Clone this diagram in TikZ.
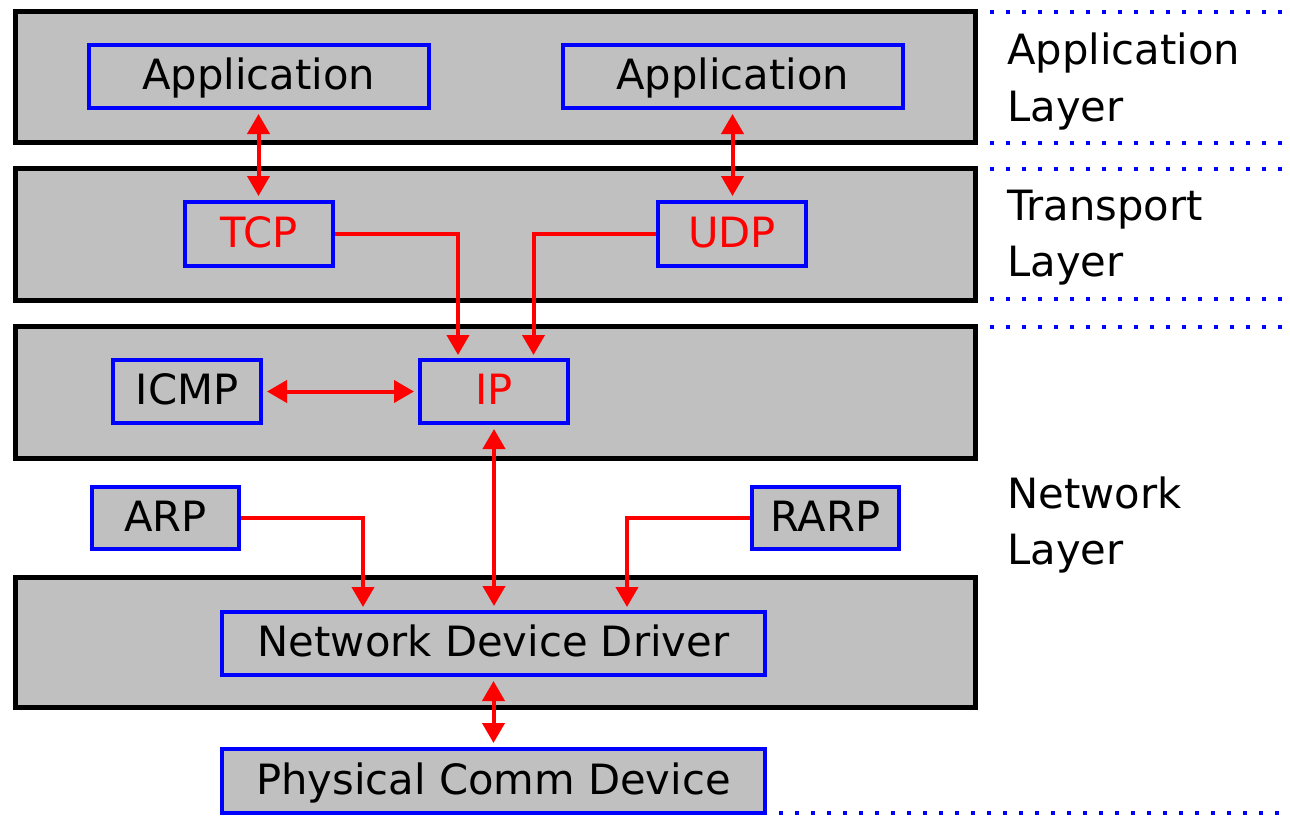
\documentclass[tikz,border=0pt]{standalone}
\usepackage{fontspec}
\setmainfont{DejaVu Sans}
\usetikzlibrary{arrows.meta}
\definecolor{laygray}{RGB}{192,192,192}
\definecolor{bblue}{RGB}{0,0,255}
\definecolor{rred}{RGB}{255,0,0}
\tikzset{
  layerbox/.style={draw=black, fill=laygray, line width=5pt},
  comp/.style={draw=bblue, fill=laygray, line width=4pt, inner sep=0pt,
    font=\fontsize{41.7}{50}\selectfont, text height=32pt, text depth=6pt,
    minimum height=63pt},
  redtext/.style={text=rred},
  lbl/.style={anchor=base west, inner sep=0pt, font=\fontsize{41.7}{50}\selectfont},
  conn/.style={draw=rred, line width=4pt, -{Triangle[width=22pt,length=20pt]}},
  bconn/.style={draw=rred, line width=4pt, {Triangle[width=22pt,length=20pt]}-{Triangle[width=22pt,length=20pt]}},
  dotline/.style={draw=bblue, line width=4pt, dash pattern=on 4pt off 12pt}
}
\begin{document}
\begin{tikzpicture}[x=1pt,y=-1pt]
\useasboundingbox (0,0) rectangle (1290,816);
% layer boxes
\draw[layerbox] (15.5,12) rectangle (975,142);
\draw[layerbox] (15.5,168) rectangle (975,300);
\draw[layerbox] (15.5,326) rectangle (975,458);
\draw[layerbox] (15.5,577) rectangle (975,707);
% components
\node[comp, minimum width=340pt] (app1) at (258.5,76.5) {Application};
\node[comp, minimum width=340pt] (app2) at (732.5,76.5) {Application};
\node[comp, redtext, minimum width=148pt, minimum height=64pt] (tcp) at (259,234) {TCP};
\node[comp, redtext, minimum width=148pt, minimum height=64pt] (udp) at (732,234) {UDP};
\node[comp, minimum width=148pt] (icmp) at (187,391.5) {ICMP};
\node[comp, redtext, minimum width=148pt] (ip) at (494,391.5) {IP};
\node[comp, minimum width=147pt, minimum height=62pt] (arp) at (165.5,518) {ARP};
\node[comp, minimum width=147pt, minimum height=62pt] (rarp) at (825.5,518) {RARP};
\node[comp, minimum width=543pt] (ndd) at (493.5,643.5) {Network Device Driver};
\node[comp, minimum width=543pt, minimum height=64pt] (phys) at (493.5,781) {Physical Comm Device};
% connectors
\draw[bconn, shorten <=4pt, shorten >=4pt] (app1.south) -- (app1.south |- tcp.north);
\draw[bconn, shorten <=4pt, shorten >=4pt] (app2.south) -- (app2.south |- udp.north);
\draw[conn, shorten >=3pt] (tcp.east) -| ([xshift=-36pt]ip.north);
\draw[conn, shorten >=3pt] (udp.west) -| ([xshift=39.5pt]ip.north);
\draw[bconn, shorten <=4pt, shorten >=4pt] (icmp.east) -- (ip.west);
\draw[bconn, shorten <=4pt, shorten >=4pt] (ip.south) -- (ip.south |- ndd.north);
\draw[conn, shorten >=3pt] (arp.east) -| ([xshift=-130.5pt]ndd.north);
\draw[conn, shorten >=3pt] (rarp.west) -| ([xshift=133.5pt]ndd.north);
\draw[bconn, shorten <=4pt, shorten >=4pt] (ndd.south) -- (ndd.south |- phys.north);
% dotted separators
\coordinate (d1a) at (990,12);  \coordinate (d1b) at (1290,12);
\coordinate (d2a) at (990,143); \coordinate (d2b) at (1290,143);
\coordinate (d3a) at (990,169); \coordinate (d3b) at (1290,169);
\coordinate (d4a) at (990,299); \coordinate (d4b) at (1290,299);
\coordinate (d5a) at (990,327); \coordinate (d5b) at (1290,327);
\coordinate (d6a) at (779,813); \coordinate (d6b) at (1290,813);
\draw[dotline] (d1a) -- (d1b);
\draw[dotline] (d2a) -- (d2b);
\draw[dotline] (d3a) -- (d3b);
\draw[dotline] (d4a) -- (d4b);
\draw[dotline] (d5a) -- (d5b);
\draw[dotline] (d6a) -- (d6b);
% layer labels
\node[lbl] (la1) at (1007,65) {Application};
\node[lbl] (la2) at (1007,121) {Layer};
\node[lbl] (lt1) at (1007,220) {Transport};
\node[lbl] (lt2) at (1007,276) {Layer};
\node[lbl] (ln1) at (1007,508) {Network};
\node[lbl] (ln2) at (1007,564) {Layer};
\end{tikzpicture}
\end{document}
